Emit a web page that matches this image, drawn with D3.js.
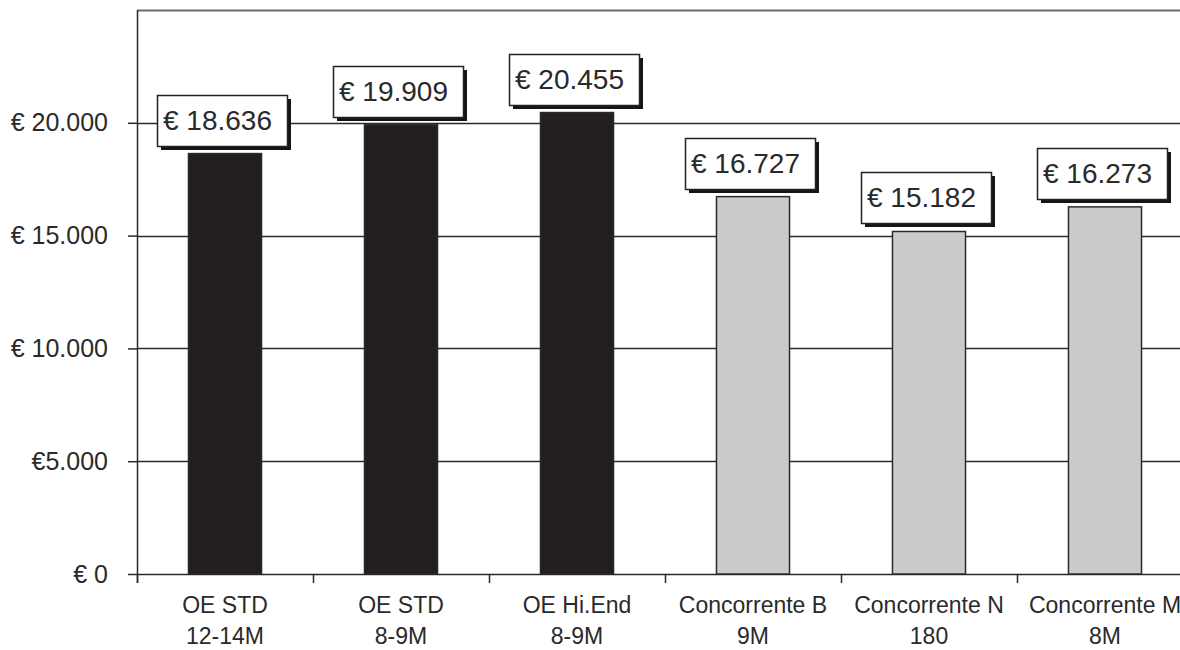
<!DOCTYPE html>
<html>
<head>
<meta charset="utf-8">
<script src="https://cdn.jsdelivr.net/npm/d3@7/dist/d3.min.js"></script>
<style>
  html, body { margin: 0; padding: 0; background: #fff; }
  svg { display: block; }
  text { font-family: "Liberation Sans", Arial, sans-serif; fill: #2a2a2a; }
</style>
</head>
<body>
<svg id="chart" width="1180" height="650"></svg>
<script>
// Prezzo medio per modello (euro)
const categories = ["OE STD|12-14M", "OE STD|8-9M", "OE Hi.End|8-9M", "Concorrente B|9M", "Concorrente N|180", "Concorrente M|8M"];
const prices = [18636, 19909, 20455, 16727, 15182, 16273];
const groups = ["OE", "OE", "OE", "Comp", "Comp", "Comp"];
const yTicks = [0, 5000, 10000, 15000, 20000];
const yTickLabels = ["€ 0", "€5.000", "€ 10.000", "€ 15.000", "€ 20.000"];
const yMax = 25000;

const svg = d3.select("#chart");
const plotLeft = 137, plotRight = 1193, plotTop = 10, plotBottom = 574;

const it = d3.formatLocale({ decimal: ",", thousands: ".", grouping: [3], currency: ["€ ", ""] });
const fmtEuro = it.format("$,d");

const y = d3.scaleLinear().domain([0, yMax]).range([plotBottom, plotTop]);
const x = d3.scaleBand().domain(categories).range([plotLeft, plotRight])
  .paddingInner(0.585).paddingOuter(0.2925);
const slot = d3.scaleLinear().domain([0, categories.length]).range([plotLeft, plotRight]);

const fill = { OE: "#231f20", Comp: "#cbcbcd" };

// horizontal gridlines
svg.append("g").selectAll("line").data(yTicks).join("line")
  .attr("x1", plotLeft).attr("x2", 1180)
  .attr("y1", d => Math.round(y(d)) + 0.5).attr("y2", d => Math.round(y(d)) + 0.5)
  .attr("stroke", "#2a2a2a").attr("stroke-width", 1.5);

// plot area top border
svg.append("line").attr("x1", plotLeft).attr("x2", 1180).attr("y1", plotTop + 0.5).attr("y2", plotTop + 0.5)
  .attr("stroke", "#6d6d6d").attr("stroke-width", 2);

// bars
svg.append("g").selectAll("rect").data(prices).join("rect")
  .attr("x", (d, i) => x(categories[i]))
  .attr("y", d => y(d))
  .attr("width", x.bandwidth())
  .attr("height", d => plotBottom - y(d))
  .attr("fill", (d, i) => fill[groups[i]])
  .attr("stroke", "#2a2a2a").attr("stroke-width", 1.5);

// y axis
const yAxis = svg.append("g").attr("transform", `translate(${plotLeft},0)`)
  .call(d3.axisLeft(y).tickValues(yTicks).tickSize(9).tickPadding(20)
    .tickFormat((d, i) => yTickLabels[i]));
yAxis.select(".domain").remove();
yAxis.selectAll(".tick line").attr("stroke", "#2a2a2a").attr("stroke-width", 1.5);
yAxis.selectAll(".tick text").attr("font-size", 25).attr("fill", "#2a2a2a")
  .attr("font-family", "\"Liberation Sans\", Arial, sans-serif");
svg.append("line").attr("x1", plotLeft + 0.5).attr("x2", plotLeft + 0.5).attr("y1", plotTop).attr("y2", plotBottom + 9)
  .attr("stroke", "#2a2a2a").attr("stroke-width", 1.5);

// x axis with category boundary ticks
const xAxis = svg.append("g").attr("transform", `translate(0,${plotBottom})`)
  .call(d3.axisBottom(slot).tickValues(d3.range(categories.length + 1)).tickSize(9).tickFormat(""));
xAxis.select(".domain").remove();
xAxis.selectAll(".tick line").attr("stroke", "#2a2a2a").attr("stroke-width", 1.5);

// category labels on two lines
const catLabels = svg.append("g").selectAll("text").data(categories).join("text")
  .attr("text-anchor", "middle").attr("font-size", 23)
  .attr("transform", d => `translate(${x(d) + x.bandwidth() / 2},0)`);
catLabels.each(function(d) {
  const parts = d.split("|");
  d3.select(this).selectAll("tspan").data(parts).join("tspan")
    .attr("x", 0).attr("y", (p, j) => 613 + j * 31).text(p => p);
});

// value labels: boxed with drop shadow
const boxW = 130, boxH = 51, shadow = 4;
const labels = svg.append("g").selectAll("g").data(prices).join("g")
  .attr("transform", (d, i) => {
    const cx = x(categories[i]) + x.bandwidth() / 2 - 3.5;
    return `translate(${Math.round(cx - boxW / 2)},${Math.round(y(d) - 8 - boxH)})`;
  });
labels.append("rect").attr("x", shadow).attr("y", shadow).attr("width", boxW).attr("height", boxH)
  .attr("fill", "#151515");
labels.append("rect").attr("x", 0.5).attr("y", 0.5).attr("width", boxW).attr("height", boxH)
  .attr("fill", "#fff").attr("stroke", "#222").attr("stroke-width", 1.5);
labels.append("text").attr("x", 6).attr("y", 35).attr("font-size", 28)
  .text(d => fmtEuro(d));
</script>
</body>
</html>
